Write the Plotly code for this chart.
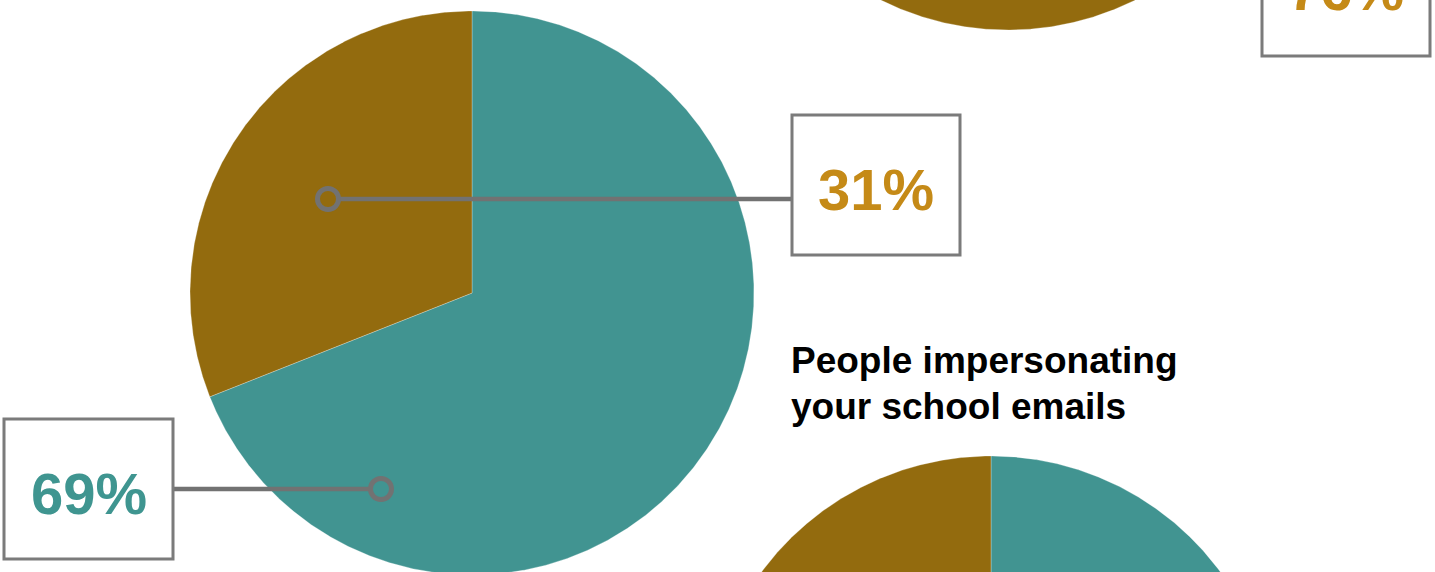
import numpy as np
import plotly.graph_objects as go

# Survey shares per question: [teal share, brown share]
categories = ["Yes", "No"]
main_values = [69, 31]
upper_values = [24, 76]
lower_values = [58, 42]
lower_title = ["People impersonating", "your school emails"]

TEAL = "#419491"
BROWN = "#936b0e"
GOLD_TEXT = "#c58a17"
TEAL_TEXT = "#3f9590"
GREY = "#727272"
BOX_GREY = "#7b7b7b"
W, H = 1435, 572

fig = go.Figure()


def add_pie(values, cx, cy, r, colors):
    """Draw a pie clockwise from 12 o'clock as filled wedges."""
    total = float(sum(values))
    start = 0.0
    for v, col in zip(values, colors):
        sweep = 2 * np.pi * v / total
        th = np.linspace(start, start + sweep, max(int(1500 * v / total), 16))
        xs = np.concatenate([[cx], cx + r * np.sin(th), [cx]])
        ys = np.concatenate([[cy], cy - r * np.cos(th), [cy]])
        fig.add_trace(go.Scatter(
            x=xs, y=ys, mode="lines", fill="toself", fillcolor=col,
            line=dict(color="rgba(255,255,255,0.45)", width=0.6),
            hoverinfo="skip", showlegend=False))
        start += sweep


add_pie(main_values, 472, 293, 282, [TEAL, BROWN])
add_pie(upper_values, 1008, -255, 285, [TEAL, BROWN])
add_pie(lower_values, 991, 741, 285, [TEAL, BROWN])


def callout(dot, box, text, color):
    """Leader line from a ring marker to a framed percentage box."""
    bx0, by0, bx1, by1 = box
    dx, dy = dot
    edge = bx0 if bx0 > dx else bx1
    start = dx + 12 if bx0 > dx else dx - 12
    fig.add_trace(go.Scatter(
        x=[start, edge], y=[dy, dy], mode="lines",
        line=dict(color=GREY, width=4.5), hoverinfo="skip", showlegend=False))
    fig.add_trace(go.Scatter(
        x=[dx], y=[dy], mode="markers",
        marker=dict(symbol="circle-open", size=21, color=GREY,
                    line=dict(width=5, color=GREY)),
        hoverinfo="skip", showlegend=False))
    fig.add_shape(type="rect", x0=bx0, y0=by0, x1=bx1, y1=by1,
                  xref="x", yref="y", fillcolor="white",
                  line=dict(color=BOX_GREY, width=3), layer="above")
    cy_text = (by0 + by1) / 2 + 4
    fig.add_annotation(
        x=(bx0 + bx1) / 2, xref="x",
        y=1 - cy_text / H, yref="paper",
        text=f"<b>{text}</b>", showarrow=False,
        xanchor="center", yanchor="middle",
        font=dict(family="Liberation Sans, Arial, sans-serif", size=58, color=color))


callout((328, 199), (792, 115, 960, 255), f"{main_values[1]}%", GOLD_TEXT)
callout((381, 489), (4, 419, 173, 559), f"{main_values[0]}%", TEAL_TEXT)
callout((1080, -14), (1262, -84, 1430, 56), f"{upper_values[1]}%", GOLD_TEXT)

for i, line in enumerate(lower_title):
    fig.add_annotation(
        x=789, xref="x", y=1 - (360 + 46 * i) / H, yref="paper",
        text=f"<b>{line}</b>", showarrow=False,
        xanchor="left", yanchor="middle",
        font=dict(family="Liberation Sans, Arial, sans-serif", size=37, color="#000000"))

fig.update_layout(
    width=W, height=H,
    margin=dict(l=0, r=0, t=0, b=0),
    paper_bgcolor="white", plot_bgcolor="white",
    showlegend=False,
    xaxis=dict(range=[0, W], visible=False, fixedrange=True),
    yaxis=dict(range=[H, 0], visible=False, fixedrange=True),
)

fig.write_html("out.html")
